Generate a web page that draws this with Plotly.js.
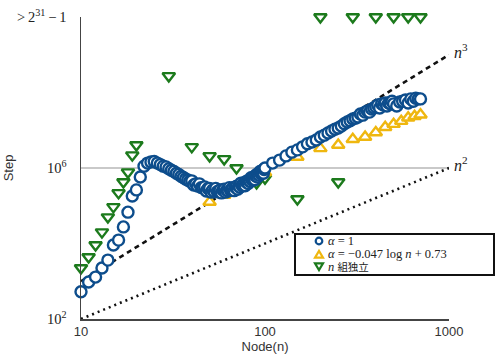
<!DOCTYPE html>
<html>
<head>
<meta charset="utf-8">
<script src="https://cdn.plot.ly/plotly-3.0.1.min.js"></script>
<style>html,body{margin:0;padding:0;background:#fff;}</style>
</head>
<body>
<div id="chart" style="width:496px;height:357px;"></div>
<script>
// ---- data ----
const blueN = [10,11,12,13,14,15,16,17,18,19,20,21,22,23,24,25,26,27,28,29,30,31,32,33,34,35,36,37,38,39,
  40,41,42,43,44,45,46,47,48,49,50,51,52,53,54,55,56,57,58,59,60,61,62,63,64,65,66,67,68,69,
  70,71,72,73,74,75,76,77,78,79,80,81,82,83,84,85,86,87,88,89,90,91,92,93,94,95,96,97,98,99,100,
  110,120,130,140,150,160,170,180,190,200,210,220,230,240,250,260,270,280,290,300,
  310,320,330,340,350,360,370,380,390,400,410,420,430,440,450,460,470,480,490,500,
  520,540,560,580,600,620,640,660,680,700];
const blueStep = [525,955,1290,2240,3630,9120,12300,27500,67600,182000,263000,575000,1.12e6,1.35e6,1.45e6,1.48e6,1.35e6,1.23e6,1.12e6,1.07e6,955000,871000,813000,724000,676000,603000,562000,513000,479000,447000,
  457000,355000,380000,331000,380000,302000,302000,316000,245000,288000,288000,229000,263000,234000,288000,234000,245000,263000,219000,263000,275000,229000,263000,245000,302000,257000,275000,302000,251000,309000,
  331000,275000,331000,309000,398000,339000,363000,407000,339000,427000,457000,389000,457000,437000,550000,479000,525000,589000,490000,617000,676000,575000,676000,646000,813000,708000,776000,871000,724000,912000,1.0e6,
  1.35e6,1.62e6,2.09e6,2.63e6,3.02e6,3.63e6,4.37e6,4.90e6,5.50e6,6.61e6,7.41e6,8.51e6,9.55e6,1.07e7,1.15e7,1.29e7,1.48e7,1.66e7,1.78e7,2.00e7,
  2.09e7,2.24e7,2.69e7,2.51e7,3.02e7,3.24e7,3.02e7,3.63e7,3.89e7,4.17e7,4.68e7,3.89e7,5.01e7,4.68e7,5.25e7,4.37e7,5.25e7,5.01e7,5.89e7,5.01e7,
  4.37e7,5.62e7,5.89e7,6.31e7,5.25e7,6.76e7,5.89e7,7.08e7,6.76e7,6.76e7];

const yellowN = [50,60,100,150,200,250,300,350,400,450,500,550,600,650,700];
const yellowStep = [1.26e5,1.91e5,7.59e5,1.95e6,3.31e6,4.07e6,5.75e6,6.61e6,8.71e6,1.20e7,1.45e7,1.74e7,2.14e7,2.34e7,2.57e7];

const LIMIT = 1e10; // drawn position of "> 2^31 - 1"
const greenN = [10,11,12,13,14,15,16,17,18,19,20,30,40,50,60,70,90,100,150,200,250,300,400,500,600,700];
const greenStep = [2240,4370,9120,20000,50100,93300,219000,427000,776000,2.19e6,4.07e6,2.75e8,3.63e6,2.09e6,1.74e6,1.0e6,398000,537000,151000,LIMIT,427000,LIMIT,LIMIT,LIMIT,LIMIT,LIMIT];

const refN = [10, 1000];
const cubeRef = [1e3, 1e9];
const squareRef = [1e2, 1e6];

const xTickVals = [10, 100, 1000];
const xTickText = ['10', '100', '1000'];
const yTickVals = [1e2, 1e6, LIMIT];
const yTickText = ['10<sup>2</sup>', '10<sup>6</sup>', '>\u20092<sup>31</sup>\u2009\u2212\u20091'];

const legendLabels = ['<i>\u03b1</i> = 1', '<i>\u03b1</i> = \u22120.047 log <i>n</i> + 0.73', '<i>n</i> <span style="font-size:10.5px">\u7d44\u72ec\u7acb</span>'];

// ---- style ----
const BLUE = '#0d4d8c', YELLOW = '#efb70f', GREEN = '#1c7a1c';
const SANS = 'Liberation Sans, Arial, sans-serif';
const SERIF = 'Liberation Serif, Noto Sans CJK JP, serif';

const mk = (sym, col) => ({symbol: sym, size: 11, color: '#fff', line: {width: 2.4, color: col}});
const traces = [
  {x: refN, y: squareRef, mode: 'lines', line: {color: '#111', width: 2.6, dash: '2px,4px'}, hoverinfo: 'skip', cliponaxis: false},
  {x: refN, y: cubeRef, mode: 'lines', line: {color: '#111', width: 2.6, dash: '5px,4px'}, hoverinfo: 'skip', cliponaxis: false},
  {x: greenN, y: greenStep, mode: 'markers', name: 'n 組独立', cliponaxis: false, marker: mk('triangle-down', GREEN)},
  {x: yellowN, y: yellowStep, mode: 'markers', name: 'alpha = -0.047 log n + 0.73', cliponaxis: false, marker: mk('triangle-up', YELLOW)},
  {x: blueN, y: blueStep, mode: 'markers', name: 'alpha = 1', cliponaxis: false, marker: mk('circle', BLUE)}
];

const L = 81, T = 17, W = 368, H = 302;
const px = v => (v - L) / W;
const py = v => (T + H - v) / H;

const rowsY = [241, 254, 267];
const annotations = [
  {x: 3, y: 9, xref: 'x', yref: 'y', text: '<i>n</i><sup>3</sup>', showarrow: false, xanchor: 'left', yanchor: 'middle', xshift: 3, yshift: 4,
   font: {family: SERIF, size: 16, color: '#222'}},
  {x: 3, y: 6, xref: 'x', yref: 'y', text: '<i>n</i><sup>2</sup>', showarrow: false, xanchor: 'left', yanchor: 'middle', xshift: 3, yshift: 4,
   font: {family: SERIF, size: 16, color: '#222'}}
];
for (let i = 0; i < 3; i++) {
  annotations.push({x: px(326), y: py(rowsY[i]), xref: 'paper', yref: 'paper', text: legendLabels[i],
    showarrow: false, xanchor: 'left', yanchor: 'middle', font: {family: SERIF, size: 12.5, color: '#222'}});
}

// legend box and its symbols (decoration, in paper coordinates)
const tri = (cx, cy, up) => {
  const h = up ? -1 : 1;
  return 'M' + px(cx - 4) + ',' + py(cy - 3.2 * h) + ' L' + px(cx + 4) + ',' + py(cy - 3.2 * h) + ' L' + px(cx) + ',' + py(cy + 3.6 * h) + ' Z';
};
const shapes = [
  {type: 'rect', xref: 'paper', yref: 'paper', x0: px(295), x1: px(494), y0: py(275), y1: py(234),
   fillcolor: '#fff', line: {color: '#111', width: 2}, layer: 'above'},
  {type: 'circle', xref: 'paper', yref: 'paper', x0: px(315.7), x1: px(322.3), y0: py(244.3), y1: py(237.7),
   fillcolor: 'rgba(0,0,0,0)', line: {color: BLUE, width: 2.2}, layer: 'above'},
  {type: 'path', xref: 'paper', yref: 'paper', path: tri(319, 254.5, true), fillcolor: 'rgba(0,0,0,0)', line: {color: YELLOW, width: 2.2}, layer: 'above'},
  {type: 'path', xref: 'paper', yref: 'paper', path: tri(319, 266.5, false), fillcolor: 'rgba(0,0,0,0)', line: {color: GREEN, width: 2.2}, layer: 'above'}
];

const layout = {
  width: 496, height: 357,
  margin: {l: L, r: 496 - L - W, t: T, b: 357 - T - H, pad: 0},
  paper_bgcolor: '#fff', plot_bgcolor: '#fff',
  showlegend: false,
  xaxis: {type: 'log', range: [1, 3], tickvals: xTickVals, ticktext: xTickText, showgrid: false, zeroline: false,
    showline: true, linecolor: '#444', linewidth: 1.5, ticks: '', automargin: false,
    tickfont: {family: SANS, size: 13, color: '#333'},
    title: {text: 'Node(n)', font: {family: SANS, size: 13, color: '#333'}, standoff: 4}},
  yaxis: {type: 'log', range: [2, 10], tickvals: yTickVals, ticktext: yTickText, showgrid: true, gridcolor: '#c9c9c9', gridwidth: 1.4,
    zeroline: false, showline: true, linecolor: '#444', linewidth: 1.5, ticks: '', automargin: false, ticklabelstandoff: 10,
    tickfont: {family: SERIF, size: 14.5, color: '#222'},
    title: {text: 'Step', font: {family: SANS, size: 13, color: '#333'}, standoff: 0}},
  shapes: shapes,
  annotations: annotations
};

Plotly.newPlot('chart', traces, layout, {displayModeBar: false, staticPlot: true});
</script>
</body>
</html>
